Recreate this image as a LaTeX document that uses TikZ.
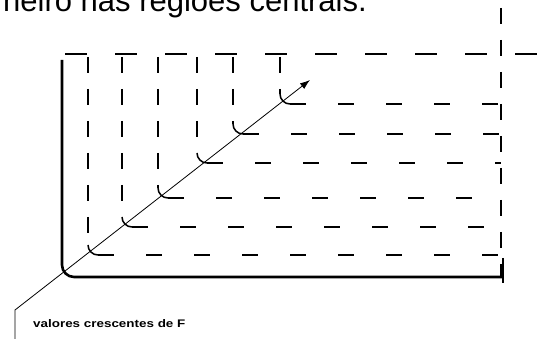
\documentclass[tikz,border=0pt]{standalone}
\usepackage{fontspec}
\newfontfamily\labelfont{Liberation Sans}
\newfontfamily\widefont[FakeStretch=1.22]{Liberation Sans}
\usetikzlibrary{arrows.meta}
\tikzset{
  axis/.style={line width=2.6pt, rounded corners=12pt},
  hlevel/.style={line width=1.5pt, dash pattern=on 16pt off 32pt},
  vlevel/.style={line width=1.5pt, dash pattern=on 16pt off 16pt},
  levelbend/.style={line width=1.5pt, rounded corners=10pt}
}
\begin{document}
\begin{tikzpicture}[x=1pt,y=-1pt]
\useasboundingbox (0,0) rectangle (542,339);
\clip (0,0) rectangle (542,339);
\node[anchor=base east,inner sep=0pt,font=\labelfont\fontsize{31}{31}\selectfont] (title) at (367,12) {neiro nas regiões centrais.};
% frame
\draw[hlevel, dash pattern=on 22pt off 28pt] (65,54) -- (540,54);
\draw[vlevel] (501,8) -- (501,278);
% level curves
\foreach \xc/\yc in {88/255,122/227,158/198,197/163,233/134,280/104}{
  \draw[vlevel] (\xc,57) -- (\xc,\yc-10);
  \draw[hlevel] (\xc+10,\yc) -- (501,\yc);
  \draw[levelbend] (\xc,\yc-10) -- (\xc,\yc) -- (\xc+10,\yc);
}
% axes
\draw[axis] (62,60) -- (62,277) -- (503,277);
\draw[line width=1.5pt] (503,258) -- (503,283);
% direction of growth
\coordinate (tail) at (15,339);
\coordinate (knee) at (15,310);
\coordinate (tip) at (310,80);
\draw[line width=0.8pt,-{Latex[length=10pt,width=7pt]}] (tail) -- (knee) -- (tip);
\node[anchor=base west,inner sep=0pt,font=\widefont\bfseries\fontsize{11}{11}\selectfont] (lab) at (33,328) {valores crescentes de F};
\end{tikzpicture}
\end{document}
